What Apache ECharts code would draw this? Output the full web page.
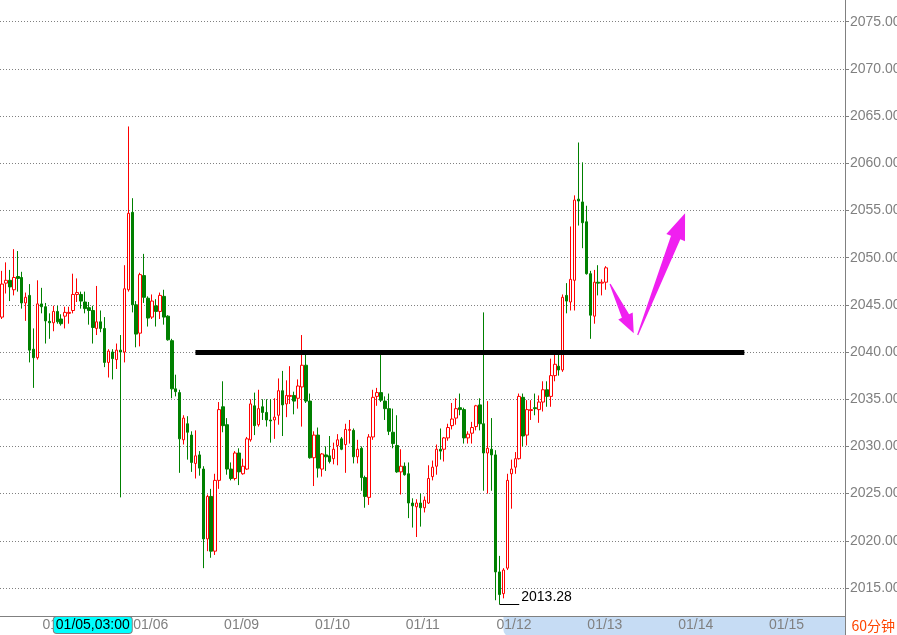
<!DOCTYPE html>
<html>
<head>
<meta charset="utf-8">
<title>60分钟 K线</title>
<script src="https://cdn.jsdelivr.net/npm/echarts@6/dist/echarts.min.js"></script>
<style>
  html, body { margin: 0; padding: 0; background: #fff; }
  #kline { width: 897px; height: 635px; }
</style>
</head>
<body>
<div id="kline"></div>
<script>
// 60分钟K线 开/收/低/高
var opens = [2043.7,2047.3,2047.6,2046.6,2048.0,2047.9,2045.2,2046.0,2040.3,2039.4,
  2045.1,2044.8,2043.25,2043.1,2044.3,2043.5,2043.8,2044.1,2044.4,2046.1,
  2046.1,2045.3,2044.7,2044.4,2042.5,2043.2,2042.5,2038.9,2040.0,2039.2,
  2040.2,2040.0,2046.6,2054.8,2045.0,2042.0,2048.1,2045.7,2043.7,2044.9,
  2044.3,2045.9,2043.8,2041.2,2036.1,2035.7,2030.7,2032.4,2031.2,2028.2,
  2029.1,2027.6,2020.2,2024.7,2018.9,2026.4,2034.2,2032.3,2027.6,2026.6,
  2029.3,2027.1,2027.6,2030.7,2034.3,2032.3,2034.2,2033.6,2032.8,2032.8,
  2033.3,2035.9,2034.5,2035.3,2035.4,2035.1,2036.3,2038.6,2034.8,2028.8,
  2031.2,2027.6,2029.1,2029.0,2028.7,2030.1,2030.8,2030.2,2031.7,2031.7,
  2028.9,2029.8,2026.7,2024.6,2031.0,2035.3,2035.7,2034.8,2034.0,2031.5,
  2030.1,2027.3,2027.9,2027.1,2024.0,2023.6,2024.0,2023.5,2024.0,2026.8,
  2027.9,2029.7,2029.7,2030.9,2032.2,2033.0,2034.1,2033.9,2030.9,2031.4,
  2032.1,2034.4,2032.4,2029.3,2029.7,2029.1,2016.7,2014.4,2017.1,2027.1,
  2027.8,2028.7,2035.2,2031.2,2033.8,2034.1,2033.9,2034.7,2036.0,2035.3,
  2037.5,2038.5,2038.1,2046.0,2045.3,2047.6,2056.2,2055.9,2053.8,2048.3,
  2043.8,2047.4,2047.3,2047.4];
var closes = [2047.2,2047.6,2046.9,2047.9,2047.8,2045.2,2045.8,2040.2,2039.4,2045.1,
  2044.8,2043.3,2043.1,2044.3,2043.2,2043.0,2044.2,2044.2,2046.1,2046.3,
  2045.4,2044.6,2044.4,2042.6,2043.2,2042.5,2038.9,2040.1,2039.3,2040.2,
  2040.0,2046.7,2054.7,2045.0,2041.9,2048.2,2045.8,2043.6,2045.4,2044.3,
  2046.0,2043.7,2041.3,2036.1,2035.8,2030.8,2033.0,2031.5,2028.3,2029.0,
  2027.7,2020.2,2024.7,2018.9,2026.4,2033.9,2032.2,2027.6,2026.6,2029.3,
  2027.3,2027.9,2030.8,2034.5,2032.2,2034.0,2033.6,2032.8,2032.7,2033.1,
  2035.9,2034.4,2035.4,2035.4,2034.8,2036.4,2038.6,2034.8,2028.8,2031.2,
  2027.7,2029.2,2028.9,2028.4,2029.7,2030.7,2029.7,2031.8,2031.8,2028.9,
  2029.7,2026.7,2024.7,2031.0,2035.2,2035.7,2034.9,2034.0,2031.6,2030.3,
  2027.3,2027.9,2027.0,2024.0,2023.7,2024.0,2023.5,2024.3,2026.6,2027.8,
  2029.7,2029.5,2030.9,2032.0,2032.9,2034.0,2033.9,2030.9,2031.3,2032.0,
  2034.3,2032.4,2029.3,2029.8,2029.1,2016.7,2014.3,2016.9,2026.4,2027.6,
  2028.7,2035.3,2031.1,2033.9,2033.9,2034.0,2034.7,2036.0,2035.3,2037.5,
  2038.7,2038.1,2045.8,2045.4,2047.7,2056.1,2056.0,2053.7,2048.3,2043.9,
  2047.4,2047.3,2047.4,2048.92];
var lows = [2043.5,2046.2,2045.4,2046.0,2046.4,2044.6,2043.3,2038.9,2036.2,2039.2,
  2044.1,2040.9,2041.4,2042.2,2043.0,2042.8,2042.5,2043.0,2044.1,2045.3,
  2044.6,2044.1,2042.9,2040.9,2041.8,2042.1,2038.4,2037.3,2037.1,2038.2,
  2024.6,2038.9,2046.4,2044.2,2040.5,2040.6,2045.2,2042.7,2043.5,2042.7,
  2043.5,2042.9,2041.2,2035.1,2035.3,2027.2,2030.2,2028.6,2027.3,2026.6,
  2026.9,2017.1,2018.9,2018.2,2018.5,2025.5,2031.5,2027.0,2026.4,2026.4,
  2025.9,2027.0,2027.5,2030.5,2031.2,2032.1,2032.8,2032.1,2030.4,2030.8,
  2032.3,2031.1,2033.1,2034.5,2033.4,2034.0,2032.1,2034.6,2028.7,2025.8,
  2026.7,2026.8,2027.4,2028.2,2028.1,2028.0,2029.6,2027.2,2030.3,2028.2,
  2028.2,2025.3,2023.5,2023.8,2030.7,2034.3,2034.7,2032.8,2031.2,2029.8,
  2027.2,2024.9,2026.9,2022.4,2021.4,2020.4,2021.5,2023.0,2023.9,2026.4,
  2027.0,2028.6,2028.4,2030.6,2031.8,2032.3,2033.3,2030.3,2030.3,2030.3,
  2031.7,2031.7,2025.3,2025.0,2025.3,2013.7,2013.28,2013.9,2016.9,2023.4,
  2027.1,2028.6,2030.0,2030.1,2032.8,2033.3,2032.5,2033.7,2034.2,2034.2,
  2036.9,2037.5,2037.9,2044.1,2044.4,2044.4,2053.4,2051.0,2048.2,2041.4,
  2043.0,2046.0,2046.0,2046.6];
var highs = [2048.6,2049.5,2048.7,2050.9,2050.7,2048.5,2046.3,2047.2,2042.5,2047.6,
  2046.8,2045.2,2044.1,2044.9,2044.9,2044.0,2044.8,2044.8,2048.3,2047.8,
  2046.4,2046.4,2045.3,2044.9,2047.0,2044.4,2043.7,2040.3,2040.3,2040.9,
  2041.8,2049.2,2063.9,2056.3,2045.4,2048.4,2050.4,2045.9,2046.1,2045.6,
  2046.3,2046.6,2043.9,2041.4,2037.6,2036.0,2033.3,2033.2,2031.6,2031.7,
  2029.5,2027.9,2024.9,2025.5,2027.1,2034.7,2036.9,2033.0,2028.3,2029.5,
  2029.8,2028.7,2031.0,2035.0,2035.7,2036.0,2035.0,2035.0,2035.0,2035.1,
  2037.2,2038.0,2037.0,2038.5,2035.8,2037.1,2041.8,2040.0,2035.6,2031.6,
  2032.0,2029.3,2030.0,2031.1,2030.4,2031.3,2031.0,2032.4,2032.8,2031.9,
  2030.7,2030.0,2026.9,2031.3,2036.0,2036.2,2039.7,2035.3,2035.6,2034.0,
  2033.3,2029.7,2028.3,2028.3,2024.5,2024.4,2025.0,2024.7,2028.0,2028.5,
  2030.2,2031.9,2031.0,2032.4,2034.6,2035.1,2035.6,2034.1,2031.6,2032.6,
  2034.4,2035.1,2044.2,2034.8,2033.0,2029.6,2018.4,2017.1,2027.1,2028.6,
  2029.4,2035.6,2035.6,2034.9,2034.9,2035.6,2035.4,2036.9,2036.9,2039.3,
  2039.7,2039.7,2046.1,2047.3,2053.3,2056.6,2062.2,2060.1,2055.5,2048.6,
  2048.7,2049.2,2047.7,2049.1];

// 横轴: 总格数(含右侧空白) 与 每日起点
var slotCount = 214;
var dayStart = [10, 33, 56, 79, 102, 125, 148, 171, 194];
var dayLabels = ['01/05', '01/06', '01/09', '01/10', '01/11', '01/12', '01/13', '01/14', '01/15'];

// 标注
var lastPrice = 2048.92;
var lowIdx = 126, lowPrice = 2013.28;
var neckPrice = 2040, neckFrom = 49, neckTo = 188;
// 箭头: [起点序号, 起点价, 终点序号, 终点价]
var arrows = [
  [153.7, 2047.2, 159.5, 2042.0],
  [160.8, 2041.8, 172.5, 2054.7]
];
var cursorIdx = 23, cursorText = '01/05,03:00';
var bandFrom = 127.4;

var categories = [];
for (var i = 0; i < slotCount; i++) categories.push(String(i));
var kdata = opens.map(function (o, i) { return [o, closes[i], lows[i], highs[i]]; });

var font = 'Liberation Sans, Arial, sans-serif';
var gridRight = 52, gridBottom = 19;

// 箭头外形(像素): 头长, 头半宽, 杆尾半宽
var arrowShape = [
  { head: 19, headHalf: 8, shaft: 4 },
  { head: 26, headHalf: 10, shaft: 5 }
];

function renderArrow(params, api) {
  var p0 = api.coord([api.value(0), api.value(1)]);
  var p1 = api.coord([api.value(2), api.value(3)]);
  var s = arrowShape[params.dataIndex];
  var dx = p1[0] - p0[0], dy = p1[1] - p0[1];
  var len = Math.sqrt(dx * dx + dy * dy);
  var ux = dx / len, uy = dy / len, nx = -uy, ny = ux;
  var bx = p1[0] - ux * s.head, by = p1[1] - uy * s.head;
  var pts = [
    [p0[0] + nx * 0.6, p0[1] + ny * 0.6],
    [bx + nx * s.shaft, by + ny * s.shaft],
    [bx + nx * s.headHalf, by + ny * s.headHalf],
    p1,
    [bx - nx * s.headHalf, by - ny * s.headHalf],
    [bx - nx * s.shaft, by - ny * s.shaft],
    [p0[0] - nx * 0.6, p0[1] - ny * 0.6]
  ];
  return { type: 'polygon', shape: { points: pts }, style: { fill: '#f020f0' } };
}

var myChart = echarts.init(document.getElementById('kline'));
var option = {
  animation: false,
  backgroundColor: '#fff',
  grid: { left: 0, right: gridRight, top: 0, bottom: gridBottom, containLabel: false, outerBoundsMode: 'none' },
  xAxis: {
    type: 'category',
    data: categories,
    boundaryGap: true,
    axisLine: { lineStyle: { color: '#808080' } },
    axisTick: {
      alignWithLabel: true, length: 4,
      lineStyle: { color: '#808080' },
      interval: function (idx) { return dayStart.indexOf(idx) !== -1; }
    },
    axisLabel: {
      color: '#808080', fontSize: 14, fontFamily: font, align: 'left', margin: 2,
      padding: [0, 0, 0, 1],
      interval: function (idx) { return dayStart.indexOf(idx) !== -1; },
      formatter: function (v) {
        var k = dayStart.indexOf(Number(v));
        return k === -1 ? '' : dayLabels[k];
      }
    },
    splitLine: { show: false },
    axisPointer: {
      show: true, status: 'show', value: cursorIdx, type: 'line', triggerTooltip: false,
      lineStyle: { opacity: 0 },
      label: {
        show: true, formatter: cursorText, backgroundColor: '#00ffff',
        borderColor: '#808080', borderWidth: 1, color: '#000', fontSize: 14,
        fontFamily: font, padding: [1, 2], margin: 1
      }
    }
  },
  yAxis: {
    type: 'value', position: 'right', scale: true,
    min: 2012.03, max: 2077.3, splitNumber: 13, minInterval: 5, maxInterval: 5,
    axisLine: { show: true, lineStyle: { color: '#808080' } },
    axisTick: { show: true, length: 4, lineStyle: { color: '#808080' } },
    axisLabel: {
      color: '#808080', fontSize: 14, fontFamily: font, margin: 5,
      showMinLabel: false, showMaxLabel: false,
      formatter: function (v) { return v.toFixed(2); }
    },
    splitLine: {
      show: true, showMinLine: false, showMaxLine: false,
      lineStyle: { color: '#808080', type: [1, 2] }
    }
  },
  series: [{
    type: 'candlestick',
    data: kdata,
    barWidth: 3,
    itemStyle: {
      color: '#ffffff', color0: '#008000',
      borderColor: '#ff0000', borderColor0: '#008000', borderWidth: 1
    },
    markLine: {
      silent: true,
      symbol: 'none',
      data: [
        [
          { coord: [neckFrom, neckPrice], lineStyle: { color: '#000', width: 5, type: 'solid' }, label: { show: false } },
          { coord: [neckTo, neckPrice] }
        ],
        [
          { coord: [lowIdx, lowPrice], lineStyle: { color: '#000', width: 1, type: 'solid' },
            label: { show: true, position: 'end', distance: 2, offset: [0, -7], formatter: String(lowPrice),
              color: '#000', fontSize: 14, fontFamily: font } },
          { coord: [lowIdx + 4.5, lowPrice] }
        ],
        {
          yAxis: lastPrice, lineStyle: { opacity: 0 },
          label: { show: true, position: 'end', distance: 4, formatter: lastPrice.toFixed(2),
            color: '#ff0000', backgroundColor: '#eef3ee', fontSize: 14, fontFamily: font, padding: [1, 1] }
        }
      ]
    }
  }, {
    type: 'custom',
    silent: true,
    renderItem: renderArrow,
    data: arrows,
    z: 5
  }]
};
myChart.setOption(option);

// 底部浅蓝区间条、右下角周期文字
var bandX = myChart.convertToPixel({ xAxisIndex: 0 }, bandFrom);
var W = myChart.getWidth(), H = myChart.getHeight();
myChart.setOption({
  graphic: [
    {
      type: 'rect', z: -10, silent: true,
      shape: { x: bandX, y: H - gridBottom + 1, width: W - gridRight - bandX, height: gridBottom, r: [0, 0, 0, 6] },
      style: { fill: '#c6dcf4' }
    },
    {
      type: 'line', silent: true,
      shape: { x1: W - gridRight + 0.5, y1: H - gridBottom, x2: W - gridRight + 0.5, y2: H },
      style: { stroke: '#808080', lineWidth: 1 }
    },
    {
      type: 'text', right: 2, bottom: 2, silent: true,
      style: { text: '60分钟', fill: '#ff4500', font: '14px "Noto Sans CJK SC", ' + font }
    }
  ]
});
</script>
</body>
</html>
